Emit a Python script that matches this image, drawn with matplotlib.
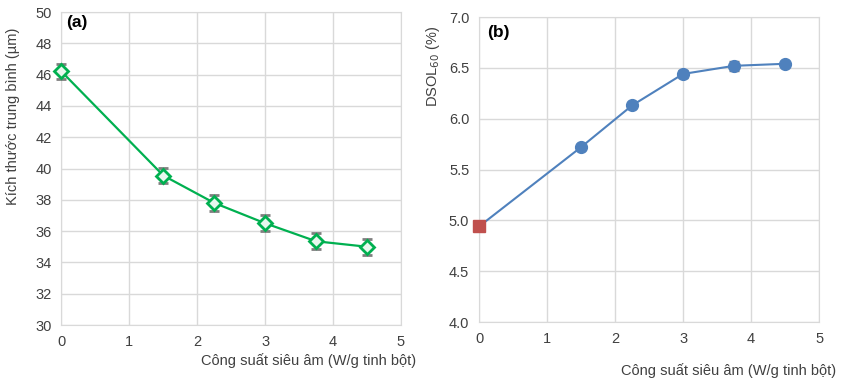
import numpy as np
import matplotlib.pyplot as plt

plt.rcParams['font.family'] = ['Liberation Sans', 'DejaVu Sans']

# panel (a): mean particle size
power = [0, 1.5, 2.25, 3, 3.75, 4.5]
size_um = [46.2, 39.55, 37.8, 36.5, 35.35, 35.0]
size_err = [0.5, 0.5, 0.5, 0.5, 0.5, 0.5]

# panel (b): DSOL60
dsol = [4.94, 5.72, 6.13, 6.44, 6.52, 6.54]
dsol_err = [0.0, 0.0, 0.0, 0.04, 0.05, 0.0]

green = '#00B050'
blue = '#4F81BD'
red = '#C0504D'
grid_c = '#D9D9D9'
text_c = '#404040'
err_c = '#7F7F7F'

fig = plt.figure(figsize=(8.41, 3.78), dpi=100)
ax1 = fig.add_axes([0.0731, 0.1402, 0.4037, 0.828])
ax2 = fig.add_axes([0.5696, 0.148, 0.4043, 0.807])

for ax in (ax1, ax2):
    ax.set_xlim(0, 5)
    ax.set_xticks(range(6))
    ax.grid(True, color=grid_c, lw=1)
    ax.set_axisbelow(True)
    for s in ax.spines.values():
        s.set_color(grid_c)
    ax.tick_params(length=0, labelsize=10.5, colors=text_c, pad=7)

# (a)
ax1.set_ylim(30, 50)
ax1.set_yticks(range(30, 51, 2))
ax1.errorbar(power, size_um, yerr=size_err, color=green, lw=1.6,
             ecolor=err_c, elinewidth=1, capsize=3.5, capthick=1,
             marker='D', ms=7, mfc='#E8F7EE', mec=green, mew=2,
             zorder=3, clip_on=False)
ax1.text(0.013, 0.99, '(a)', transform=ax1.transAxes, fontsize=12.5,
         fontweight='bold', va='top')
fig.text(13 / 841, 1 - 116 / 378, 'Kích thước trung bình (µm)', rotation=90,
         fontsize=10.5, color=text_c, ha='center', va='center')
ax1.set_xlabel('Công suất siêu âm (W/g tinh bột)', fontsize=10.5, color=text_c)
ax1.xaxis.set_label_coords(1.045, -0.09, transform=ax1.transAxes)
ax1.xaxis.label.set_ha('right')

# (b)
ax2.set_ylim(4.0, 7.0)
ax2.set_yticks(np.arange(4.0, 7.01, 0.5))
ax2.yaxis.set_major_formatter(plt.FormatStrFormatter('%.1f'))
ax2.plot(power, dsol, color=blue, lw=1.5, zorder=2)
ax2.errorbar(power[1:], dsol[1:], yerr=dsol_err[1:], color=blue, lw=0,
             ecolor=err_c, elinewidth=1, capsize=3.5, capthick=1,
             marker='o', ms=8.5, mfc=blue, mec=blue, zorder=3)
ax2.plot(power[:1], dsol[:1], 's', color=red, ms=8, zorder=4, clip_on=False)
ax2.text(0.024, 0.974, '(b)', transform=ax2.transAxes, fontsize=12.5,
         fontweight='bold', va='top')
fig.text(433 / 841, 1 - 66 / 378, 'DSOL$_{60}$ (%)', rotation=90,
         fontsize=10.5, color=text_c, ha='center', va='center')
ax2.set_xlabel('Công suất siêu âm (W/g tinh bột)', fontsize=10.5, color=text_c)
ax2.xaxis.set_label_coords(1.05, -0.135, transform=ax2.transAxes)
ax2.xaxis.label.set_ha('right')

fig.savefig('out.png', dpi=100)
